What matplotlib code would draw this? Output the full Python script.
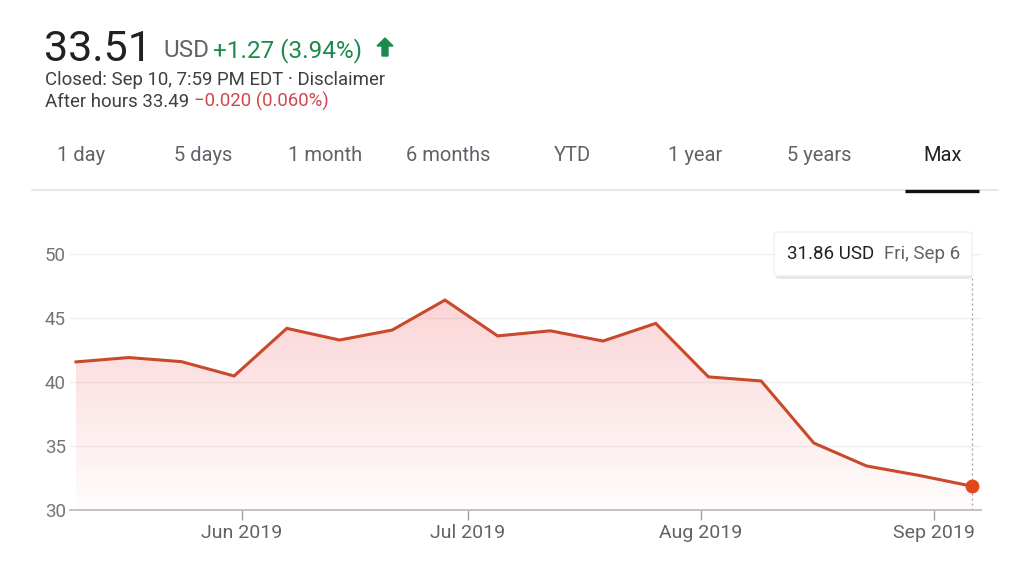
import matplotlib
matplotlib.use("Agg")
import matplotlib.pyplot as plt
import matplotlib.dates as mdates
from matplotlib.patches import FancyBboxPatch, Polygon
import numpy as np
import pandas as pd

plt.rcParams['font.family'] = ['Roboto', 'DejaVu Sans']

W, H = 1013, 565

# weekly closes (Fridays)
dates = pd.date_range("2019-05-10", "2019-09-06", freq="7D")
prices = [41.57, 41.91, 41.59, 40.47, 44.19, 43.28, 44.06, 46.40, 43.60,
          44.00, 43.20, 44.58, 40.40, 40.08, 35.23, 33.44, 32.70, 31.86]

y_ticks = [30, 35, 40, 45, 50]
x_ticks = ["2019-06-01", "2019-07-01", "2019-08-01", "2019-09-01"]
x_labels = ["Jun 2019", "Jul 2019", "Aug 2019", "Sep 2019"]
tabs = ["1 day", "5 days", "1 month", "6 months", "YTD", "1 year", "5 years", "Max"]
tab_x = [81, 203, 325, 448, 572, 695, 819, 943]

GRAY = "#5f6368"
LINE = "#c9492b"
GREEN = "#1b8a4c"


def fx(px):
    return px / W


def fy(py):
    return 1 - py / H


fig = plt.figure(figsize=(W / 100, H / 100), dpi=100)
fig.patch.set_facecolor("white")

# ---- header text
fig.text(fx(44), fy(61), "33.51", fontsize=31, color="#202124", va="baseline")
fig.text(fx(163), fy(57), "USD", fontsize=17.5, color=GRAY, va="baseline")
fig.text(fx(213), fy(57), "+1.27 (3.94%)", fontsize=17.5, color=GREEN, va="baseline")
# arrow up
arrow = Polygon([[fx(385), fy(38)], [fx(393), fy(46)], [fx(388), fy(46)], [fx(388), fy(56)],
                 [fx(382), fy(56)], [fx(382), fy(46)], [fx(377), fy(46)]],
                closed=True, transform=fig.transFigure, color=GREEN)
fig.patches.append(arrow)

fig.text(fx(45), fy(85), "Closed: Sep 10, 7:59 PM EDT \u00b7 Disclaimer", fontsize=13.4,
         color="#3c4043", va="baseline")
fig.text(fx(45), fy(107), "After hours 33.49", fontsize=13.4, color="#3c4043", va="baseline")
fig.text(fx(194), fy(107), "\u22120.020 (0.060%)", fontsize=13.4, color="#d2474f", va="baseline")

# ---- tabs
for lbl, x in zip(tabs, tab_x):
    fig.text(fx(x), fy(156), lbl, fontsize=14.5, ha="center", va="center",
             color="#202124" if lbl == "Max" else GRAY)
fig.add_artist(plt.Line2D([fx(32), fx(998)], [fy(190), fy(190)], color="#e3e3e3", lw=1.2))
fig.add_artist(plt.Line2D([fx(905), fx(979)], [fy(191), fy(191)], color="#111111", lw=2.4,
                          solid_capstyle="butt"))

# ---- chart
ax = fig.add_axes([fx(70), fy(510), fx(981) - fx(70), fy(254) - fy(510)])
x_num = mdates.date2num(dates)
x_left = x_num[0] - 0.8
x_right = x_num[-1] + 1.2
ax.set_xlim(x_left, x_right)
ax.set_ylim(30, 50)

# gradient fill under the line
grad = np.zeros((256, 2, 4))
grad[..., 0] = 0.95
grad[..., 1] = 0.45
grad[..., 2] = 0.47
alpha = np.linspace(0.02, 0.30, 256)
grad[..., 3] = alpha[:, None]
img = ax.imshow(grad, extent=[x_left, x_right, 30, max(prices)], origin="lower",
                aspect="auto", zorder=1, interpolation="bilinear")
clip = Polygon(np.column_stack([np.r_[x_num, x_num[::-1]],
                                np.r_[prices, np.full(len(prices), 30)]]),
               closed=True, transform=ax.transData, facecolor="none", edgecolor="none")
ax.add_patch(clip)
img.set_clip_path(clip)

for yv in y_ticks[1:]:
    ax.axhline(yv, color="#efefef", lw=1, zorder=0)

ax.plot(x_num, prices, color=LINE, lw=2.2, zorder=3, solid_joinstyle="miter")
ax.plot(x_num[-1], prices[-1], "o", color="#e4471c", ms=9, zorder=4)
ax.plot([x_num[-1], x_num[-1]], [30, 48.3], color="#9a9a9a", lw=0.9, ls=(0, (1.5, 2.5)), zorder=2)

for s in ["top", "right", "left"]:
    ax.spines[s].set_visible(False)
ax.spines["bottom"].set_color("#bdbdbd")
ax.spines["bottom"].set_linewidth(1.3)

ax.set_yticks(y_ticks)
ax.tick_params(axis="y", length=0, pad=3, labelsize=13.5, labelcolor="#70757a")
ax.set_xticks(mdates.date2num(pd.to_datetime(x_ticks)))
ax.set_xticklabels(x_labels)
ax.tick_params(axis="x", length=7, width=1, color="#a0a0a0", pad=3, labelsize=14,
               labelcolor="#5f6368")

# ---- tooltip
shadow = FancyBboxPatch((fx(776), fy(279)), fx(972) - fx(776), fy(234) - fy(279),
                        boxstyle="round,pad=0,rounding_size=0.004", transform=fig.transFigure,
                        facecolor="#d8d8d8", edgecolor="none", alpha=0.6, zorder=5)
box = FancyBboxPatch((fx(774), fy(276)), fx(972) - fx(774), fy(232) - fy(276),
                     boxstyle="round,pad=0,rounding_size=0.004", transform=fig.transFigure,
                     facecolor="white", edgecolor="#ececec", lw=0.8, zorder=6)
fig.patches.extend([shadow, box])
fig.text(fx(787), fy(254), "31.86 USD", fontsize=13.5, color="#202124", va="center", zorder=7)
fig.text(fx(884), fy(254), "Fri, Sep 6", fontsize=13.5, color=GRAY, va="center", zorder=7)

plt.savefig("out.png", dpi=100)
plt.close()
